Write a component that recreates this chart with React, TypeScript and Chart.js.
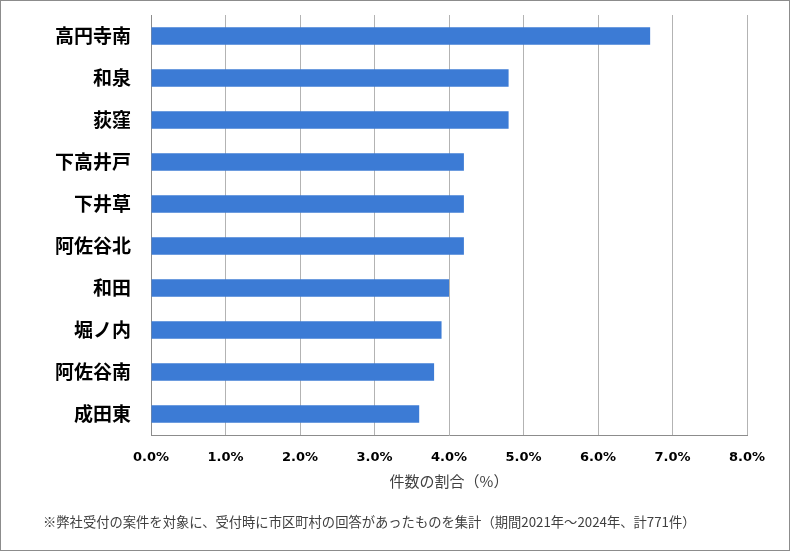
import React, { useEffect, useRef } from "react";
import { Chart, registerables } from "chart.js";

Chart.register(...registerables);

const categories = ["高円寺南", "和泉", "荻窪", "下高井戸", "下井草", "阿佐谷北", "和田", "堀ノ内", "阿佐谷南", "成田東"];
const shares = [6.7, 4.8, 4.8, 4.2, 4.2, 4.2, 4.0, 3.9, 3.8, 3.6];
const xTicks = [0, 1, 2, 3, 4, 5, 6, 7, 8];
const axisTitle = "件数の割合（%）";
const footnote = "※弊社受付の案件を対象に、受付時に市区町村の回答があったものを集計（期間2021年～2024年、計771件）";

const JP = '"Noto Sans CJK JP", "Noto Sans", sans-serif';

export default function App() {
  const ref = useRef<HTMLCanvasElement | null>(null);

  useEffect(() => {
    document.body.style.margin = "0";
    const ctx = ref.current!.getContext("2d")!;
    const chart = new Chart(ctx, {
      type: "bar",
      data: {
        labels: categories,
        datasets: [
          {
            data: shares,
            backgroundColor: "#3C7BD5",
            borderWidth: 0,
            categoryPercentage: 1,
            barPercentage: 0.42,
          },
        ],
      },
      options: {
        indexAxis: "y",
        animation: false,
        responsive: false,
        maintainAspectRatio: false,
        layout: { padding: { top: 14, right: 42, bottom: 0, left: 0 } },
        plugins: { legend: { display: false }, tooltip: { enabled: false } },
        scales: {
          x: {
            min: 0,
            max: 8,
            afterBuildTicks: (scale: any) => {
              scale.ticks = xTicks.map((v) => ({ value: v }));
            },
            afterFit: (scale: any) => {
              scale.height = 115;
              scale.paddingLeft = 0;
              scale.paddingRight = 0;
            },
            grid: { color: "#B3B3B3", lineWidth: 1, drawTicks: false },
            border: { color: "#8C8C8C", width: 1 },
            ticks: {
              padding: 15,
              color: "#000000",
              font: { family: '"DejaVu Sans", sans-serif', size: 13, weight: "bold" },
              callback: (v: any) => Number(v).toFixed(1) + "%",
            },
            title: {
              display: true,
              text: axisTitle,
              color: "#404040",
              font: { family: JP, size: 15 },
              padding: { top: 0, bottom: 60 },
            },
          },
          y: {
            afterFit: (scale: any) => {
              scale.width = 150;
              scale.paddingTop = 0;
              scale.paddingBottom = 0;
            },
            grid: { display: false, drawTicks: false },
            border: { color: "#8C8C8C", width: 1 },
            ticks: {
              padding: 20,
              color: "#000000",
              font: { family: JP, size: 19, weight: "bold" },
            },
          },
        },
      },
    });
    return () => chart.destroy();
  }, []);

  return (
    <div
      style={{
        position: "absolute",
        left: 0,
        top: 0,
        width: 790,
        height: 551,
        boxSizing: "border-box",
        border: "1px solid #8C8C8C",
        background: "#FFFFFF",
        overflow: "hidden",
      }}
    >
      <canvas ref={ref} width={788} height={549} style={{ display: "block", position: "absolute", left: 0, top: 0 }} />
      <div
        style={{
          position: "absolute",
          left: 42,
          top: 511,
          fontFamily: JP,
          fontSize: 13.3,
          color: "#404040",
          whiteSpace: "nowrap",
        }}
      >
        {footnote}
      </div>
    </div>
  );
}
